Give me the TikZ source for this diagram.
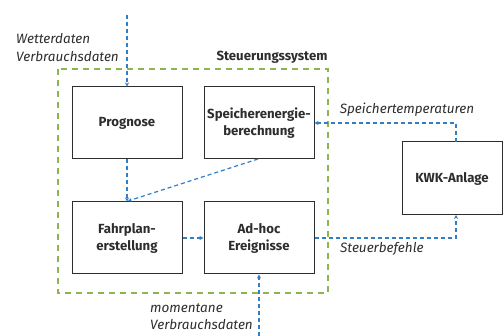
\documentclass[tikz,border=0pt]{standalone}
\usepackage{fontspec}
\setmainfont{Fira Sans}
\usetikzlibrary{arrows.meta,calc}
\definecolor{flowblue}{RGB}{50,125,195}
\definecolor{sysgreen}{RGB}{140,180,80}
\definecolor{txtgray}{RGB}{45,45,45}
\begin{document}
\begin{tikzpicture}[x=1pt,y=-1pt,
  blk/.style={draw=txtgray,line width=1pt,minimum width=110pt,minimum height=72pt,align=center,font=\fontsize{13.2}{17}\selectfont\bfseries,text=txtgray,inner sep=0pt},
  flow/.style={draw=flowblue,line width=1.2pt,dash pattern=on 4pt off 3pt,-{Stealth[length=4pt,width=4pt]}},
  lbl/.style={font=\fontsize{13.5}{16}\selectfont\itshape,text=txtgray,inner sep=0pt}]
\useasboundingbox (0,0) rectangle (504,336);
\draw[sysgreen,line width=1.3pt,dash pattern=on 6pt off 5pt] (58,69) rectangle (328,293);
\node[blk] (prog) at (127,123) {Prognose};
\node[blk] (spe) at (259,123) {Speicherenergie-\\berechnung};
\node[blk] (fahr) at (127,238) {Fahrplan-\\erstellung};
\node[blk] (adhoc) at (259,238) {Ad-hoc\\Ereignisse};
\node[blk,minimum width=100pt,minimum height=73pt] (kwk) at (452,178.5) {KWK-Anlage};
\node[font=\fontsize{13.2}{16}\selectfont\bfseries,text=txtgray,inner sep=0pt] (sys) at (272,57) {Steuerungssystem};
\node[lbl,anchor=west] (wet) at (16,39) {Wetterdaten};
\node[lbl,anchor=west] (verb) at (16,57) {Verbrauchsdaten};
\node[lbl] (stemp) at (407,110) {Speichertemperaturen};
\node[lbl,anchor=west] (steu) at (340,249) {Steuerbefehle};
\node[lbl,anchor=west] (mom) at (150,308) {momentane};
\node[lbl,anchor=west] (mverb) at (150,325) {Verbrauchsdaten};
\coordinate (intop) at (127,15);
\coordinate (inbot) at (259,336);
\coordinate (fahrin) at (128,201);
\coordinate (speout) at (258,159);
\coordinate (kwkb) at (456,215);
\coordinate (kwkt) at (456,142);
\draw[flow] (intop) -- (prog.north);
\draw[flow] (prog.south) -- (fahr.north);
\draw[flow] (speout) -- (fahrin);
\draw[flow] (fahr.east) -- (adhoc.west);
\draw[flow] (adhoc.east) -| (kwkb);
\draw[flow] (kwkt) |- (spe.east);
\draw[flow] (inbot) -- (adhoc.south);
\end{tikzpicture}
\end{document}
